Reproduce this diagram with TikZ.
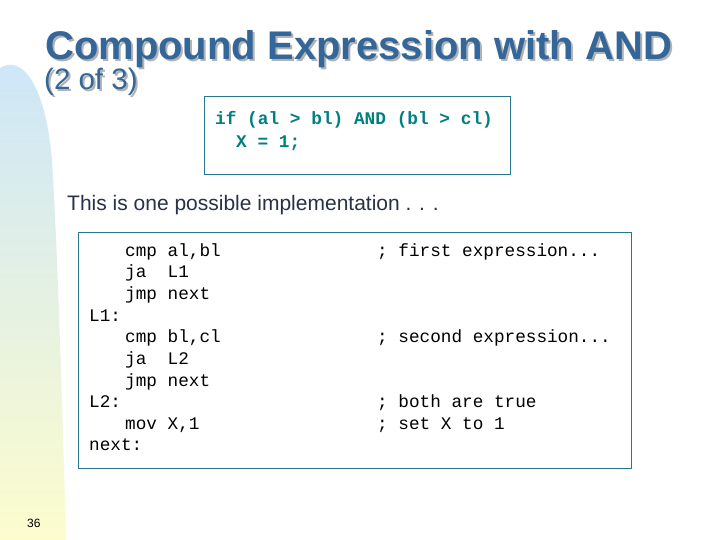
\documentclass[tikz,border=0pt]{standalone}
\usepackage{fontspec}
\setmainfont{Liberation Sans}
\setmonofont{Liberation Mono}
\begin{document}
\begin{tikzpicture}[x=1pt,y=-1pt,
  code/.style={anchor=base west,inner sep=0,font=\ttfamily\fontsize{17.7}{20}\selectfont},
  hcode/.style={anchor=base west,inner sep=0,font=\ttfamily\bfseries\fontsize{17.8}{20}\selectfont,text={rgb,255:red,0;green,128;blue,128}},
  frame/.style={draw={rgb,255:red,40;green,120;blue,140},line width=0.8pt}]
\useasboundingbox (0,0) rectangle (720,540);
\fill[white] (0,0) rectangle (720,540);
\shade[top color={rgb,255:red,205;green,230;blue,248},bottom color={rgb,255:red,252;green,252;blue,205}]
  (0,68) .. controls (20,55) and (45,80) .. (52,160) .. controls (58,260) and (62,400) .. (66,540) -- (0,540) -- cycle;
\node[anchor=base west,inner sep=0,font=\bfseries\fontsize{40}{44}\selectfont,text=gray!60] at (47,62) {Compound Expression with AND};
\node (title) [anchor=base west,inner sep=0,font=\bfseries\fontsize{40}{44}\selectfont,text={rgb,255:red,51;green,102;blue,153}] at (45,60) {Compound Expression with AND};
\node[anchor=base west,inner sep=0,font=\fontsize{29.5}{32}\selectfont,text=gray!60] at (46,92) {(2 of 3)};
\node (sub) [anchor=base west,inner sep=0,font=\fontsize{29.5}{32}\selectfont,text={rgb,255:red,51;green,102;blue,153}] at (44,90) {(2 of 3)};
\draw[frame] (204,96) rectangle (510,174);
\node (h1) [hcode] at (215,125) {if (al > bl) AND (bl > cl)};
\node (h2) [hcode] at (236,148) {X = 1;};
\node (intro) [anchor=base west,inner sep=0,font=\fontsize{21}{24}\selectfont,text={rgb,255:red,40;green,50;blue,70}] at (67,211) {This is one possible implementation . . .};
\draw[frame] (78,232) rectangle (631,468);
\node (c1) [code] at (125,256) {cmp al,bl};
\node (c2) [code] at (125,277.5) {ja\ \ L1};
\node (c3) [code] at (125,299) {jmp next};
\node (c4) [code] at (89,321) {L1:};
\node (c5) [code] at (125,342.5) {cmp bl,cl};
\node (c6) [code] at (125,364) {ja\ \ L2};
\node (c7) [code] at (125,386) {jmp next};
\node (c8) [code] at (89,407.5) {L2:};
\node (c9) [code] at (125,429) {mov X,1};
\node (c10) [code] at (89,450.5) {next:};
\node (m1) [code] at (377,256) {; first expression...};
\node (m2) [code] at (377,342.5) {; second expression...};
\node (m3) [code] at (377,407.5) {; both are true};
\node (m4) [code] at (377,429) {; set X to 1};
\node (pg) [anchor=base west,inner sep=0,font=\fontsize{12}{14}\selectfont] at (27,527) {36};
\end{tikzpicture}
\end{document}
